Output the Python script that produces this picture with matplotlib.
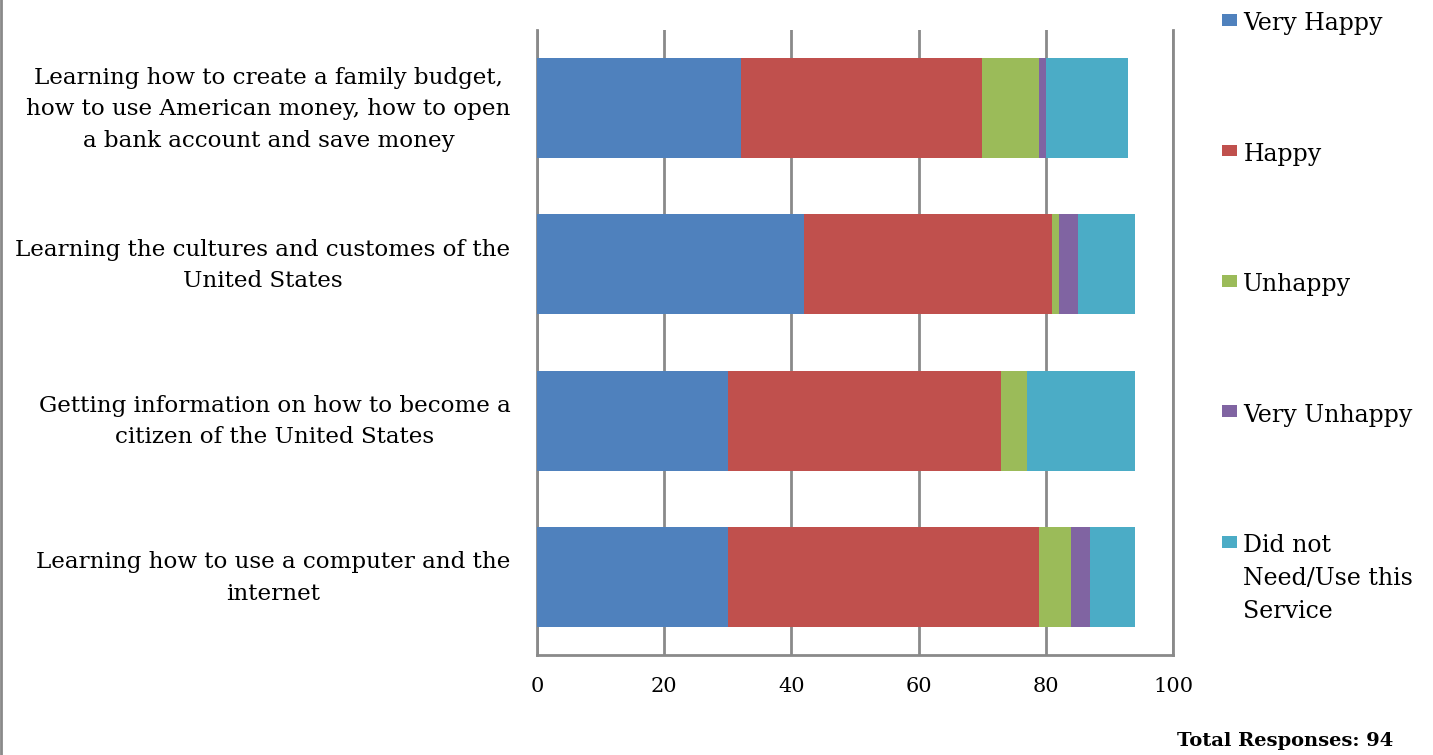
import matplotlib
matplotlib.use("Agg")
import matplotlib.pyplot as plt
from matplotlib.lines import Line2D
from matplotlib.patches import Rectangle
from matplotlib.container import BarContainer
from matplotlib.legend_handler import HandlerPatch, update_from_first_child
from matplotlib.transforms import ScaledTranslation
import numpy as np

categories = [
    "Learning how to create a family budget,\nhow to use American money, how to open\na bank account and save money",
    "Learning the cultures and customes of the\nUnited States",
    "Getting information on how to become a\ncitizen of the United States",
    "Learning how to use a computer and the\ninternet",
]
series_names = ["Very Happy", "Happy", "Unhappy", "Very Unhappy",
                "Did not\nNeed/Use this\nService"]
very_happy = [32, 42, 30, 30]
happy = [38, 39, 43, 49]
unhappy = [9, 1, 4, 5]
very_unhappy = [1, 3, 0, 3]
did_not_use = [13, 9, 17, 7]
colors = ["#4F81BD", "#C0504D", "#9BBB59", "#8064A2", "#4BACC6"]
x_ticks = [0, 20, 40, 60, 80, 100]

plt.rcParams['font.family'] = ['DejaVu Serif']
GRID = '#8A8A8A'

fig = plt.figure(figsize=(14.33, 7.55), dpi=100)
ax = fig.add_axes([537/1433, 100/755, 636/1433, 625/755])

y = np.arange(len(categories))
left = np.zeros(len(categories))
series = [very_happy, happy, unhappy, very_unhappy, did_not_use]
handles = []
for vals, name, c in zip(series, series_names, colors):
    b = ax.barh(y, vals, left=left, height=0.64, color=c, label=name, zorder=3)
    handles.append(b)
    left = left + np.array(vals)

ax.set_ylim(len(categories) - 0.5, -0.5)
ax.set_xlim(0, 100)
ax.set_xticks(x_ticks)
ax.set_yticks(y)
ax.set_yticklabels(categories, multialignment='center', linespacing=1.55)
ax.tick_params(axis='y', length=0, pad=19, labelsize=16.6)
ax.tick_params(axis='x', length=0, pad=16, labelsize=15)
shift = ScaledTranslation(0, 6/100, fig.dpi_scale_trans)
for lab in ax.get_yticklabels():
    lab.set_transform(lab.get_transform() + shift)
ax.grid(axis='x', color=GRID, linewidth=2, zorder=0)
ax.spines['top'].set_visible(False)
for s in ['left', 'bottom', 'right']:
    ax.spines[s].set_color(GRID)
    ax.spines[s].set_linewidth(2)


def legend_patch(legend, orig_handle, xdescent, ydescent, width, height, fontsize):
    top = -ydescent + height
    h = 0.5 * fontsize
    off = 0.08 * fontsize
    return Rectangle((-xdescent, top - off - h), width, h)


handler = HandlerPatch(patch_func=legend_patch, update_func=update_from_first_child)
leg = fig.legend(handles=handles, labels=series_names, loc='upper left',
                 bbox_to_anchor=(1201/1433, 1 + 9/755), frameon=False,
                 fontsize=17, labelspacing=4.55, handlelength=0.64,
                 handleheight=1.0, handletextpad=0.25,
                 handler_map={BarContainer: handler})
for t in leg.get_texts():
    t.set_linespacing(1.55)
for col in leg._legend_handle_box.get_children():
    for hp in col.get_children():
        hp.align = 'top'

fig.text(1393/1433, 1 - 741/755, "Total Responses: 94", ha='right', va='center',
         fontsize=14, fontweight='bold')

fig.add_artist(Line2D([1/1433, 1/1433], [0, 1], color=GRID, linewidth=2,
                      transform=fig.transFigure))

fig.savefig("out.png", dpi=100)
